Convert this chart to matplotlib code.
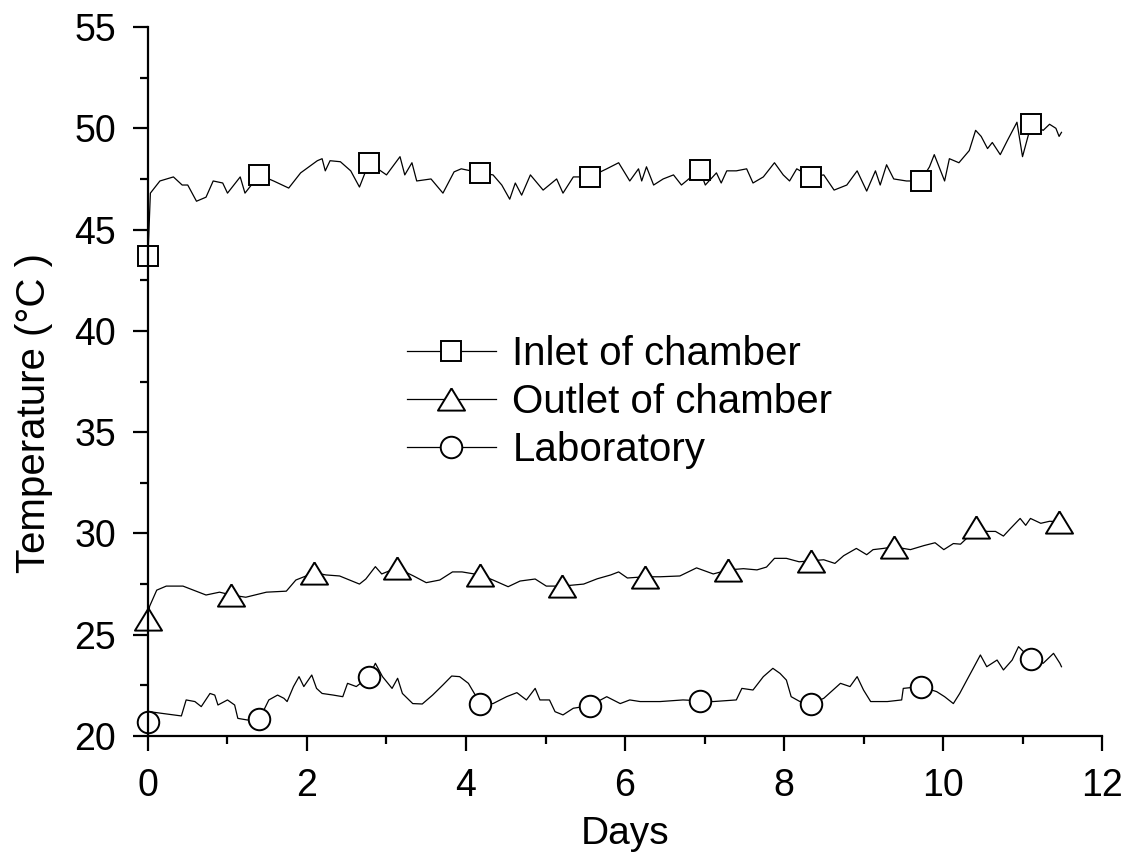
import matplotlib
matplotlib.use("Agg")
import matplotlib.pyplot as plt
import numpy as np

plt.rcParams['font.family'] = ['Liberation Sans', 'DejaVu Sans']

# inlet of chamber (days, degC)
inlet_days = [0.0, 0.03, 0.15, 0.32, 0.43, 0.5, 0.61, 0.73, 0.82, 0.94, 1.0, 1.16, 1.22, 1.28,
              1.4, 1.58, 1.77, 1.92, 2.13, 2.19, 2.23, 2.29, 2.42, 2.55, 2.66, 2.78, 3.0, 3.17,
              3.23, 3.32, 3.38, 3.56, 3.71, 3.85, 3.94, 4.18, 4.34, 4.45, 4.55, 4.62, 4.7, 4.81,
              4.97, 5.14, 5.22, 5.35, 5.56, 5.77, 5.92, 6.06, 6.17, 6.21, 6.27, 6.36, 6.48, 6.61,
              6.71, 6.94, 7.01, 7.15, 7.21, 7.28, 7.4, 7.53, 7.61, 7.74, 7.88, 7.99, 8.07, 8.16,
              8.34, 8.5, 8.63, 8.79, 8.92, 9.04, 9.15, 9.21, 9.29, 9.38, 9.54, 9.72, 9.83, 9.89,
              10.02, 10.08, 10.2, 10.33, 10.41, 10.48, 10.56, 10.62, 10.72, 10.81, 10.93, 11.0,
              11.11, 11.26, 11.34, 11.42, 11.46, 11.49]
inlet_temp = [43.7, 46.8, 47.4, 47.6, 47.2, 47.2, 46.4, 46.6, 47.4, 47.3, 46.8, 47.6, 46.8, 47.1,
              47.7, 47.4, 47.05, 47.8, 48.4, 48.5, 47.9, 48.4, 48.35, 47.9, 47.1, 48.3, 47.7, 48.6,
              47.7, 48.3, 47.4, 47.5, 46.8, 47.85, 48.0, 47.8, 47.7, 47.2, 46.5, 47.3, 46.7, 47.7,
              46.95, 47.5, 46.8, 47.6, 47.6, 48.0, 48.3, 47.4, 48.0, 47.4, 48.1, 47.2, 47.5, 47.7,
              47.2, 47.95, 47.2, 47.8, 47.3, 47.9, 47.9, 48.0, 47.3, 47.6, 48.3, 47.7, 47.4, 48.0,
              47.6, 47.7, 46.95, 47.2, 47.9, 46.9, 47.9, 47.2, 48.2, 47.5, 47.4, 47.4, 48.1, 48.7,
              47.4, 48.5, 48.3, 48.9, 49.9, 49.6, 49.0, 49.3, 48.7, 49.4, 50.3, 48.6,
              50.2, 49.9, 50.2, 50.0, 49.6, 49.8]
inlet_marks = [0.0, 1.4, 2.78, 4.18, 5.56, 6.94, 8.34, 9.72, 11.11]

# outlet of chamber
outlet_days = [0.0, 0.02, 0.11, 0.23, 0.44, 0.73, 0.9, 1.05, 1.23, 1.49, 1.74, 1.86, 2.09, 2.24,
               2.41, 2.66, 2.74, 2.86, 2.94, 3.13, 3.34, 3.5, 3.67, 3.83, 3.95, 4.18, 4.34, 4.53,
               4.68, 4.87, 5.01, 5.21, 5.48, 5.65, 5.82, 5.92, 6.03, 6.25, 6.44, 6.69, 6.9, 7.11,
               7.3, 7.49, 7.66, 7.78, 7.88, 8.03, 8.19, 8.34, 8.5, 8.64, 8.75, 8.91, 9.04, 9.12,
               9.25, 9.38, 9.59, 9.76, 9.9, 10.01, 10.13, 10.22, 10.32, 10.42, 10.55, 10.66, 10.76,
               10.85, 10.97, 11.04, 11.1, 11.23, 11.34, 11.46]
outlet_temp = [25.8, 26.4, 27.2, 27.4, 27.4, 26.96, 27.1, 26.96, 26.85, 27.1, 27.15, 27.7, 28.06, 27.95,
               27.9, 27.5, 27.75, 28.36, 28.0, 28.3, 27.9, 27.57, 27.7, 28.1, 28.1, 27.95, 27.7, 27.37,
               27.65, 27.75, 27.4, 27.4, 27.5, 27.76, 27.95, 28.1, 27.8, 27.86, 27.86, 27.9, 28.3, 28.0,
               28.2, 28.26, 28.2, 28.34, 28.77, 28.77, 28.6, 28.65, 28.7, 28.52, 28.9, 29.26, 28.95, 29.2,
               29.26, 29.34, 29.2, 29.4, 29.54, 29.2, 29.5, 29.47, 29.84, 30.33, 30.1, 30.1, 29.87,
               30.25, 30.74, 30.4, 30.74, 30.5, 30.6, 30.58]
outlet_marks = [0.0, 1.05, 2.09, 3.13, 4.18, 5.21, 6.25, 7.3, 8.34, 9.38, 10.42, 11.46]

# laboratory
lab_days = [0.0, 0.02, 0.17, 0.42, 0.48, 0.59, 0.67, 0.78, 0.84, 0.88, 1.0, 1.09, 1.13, 1.25, 1.4,
            1.52, 1.63, 1.71, 1.75, 1.83, 1.9, 1.96, 2.06, 2.12, 2.19, 2.33, 2.45, 2.51, 2.62, 2.78,
            2.86, 2.95, 3.07, 3.14, 3.2, 3.33, 3.45, 3.58, 3.71, 3.82, 3.92, 4.03, 4.18, 4.34, 4.51,
            4.64, 4.76, 4.87, 4.93, 5.05, 5.12, 5.22, 5.35, 5.56, 5.77, 5.94, 6.06, 6.19, 6.44, 6.73,
            6.94, 7.11, 7.4, 7.47, 7.61, 7.74, 7.86, 7.95, 8.03, 8.09, 8.2, 8.34, 8.5, 8.71, 8.83,
            8.92, 9.0, 9.09, 9.3, 9.48, 9.5, 9.72, 9.92, 10.02, 10.13, 10.21, 10.3, 10.38, 10.47,
            10.55, 10.68, 10.76, 10.87, 10.95, 11.11, 11.26, 11.39, 11.47, 11.49]
lab_temp = [20.71, 21.2, 21.12, 20.99, 21.78, 21.7, 21.45, 22.1, 22.02, 21.53, 21.78, 21.53, 20.87, 20.79, 20.82,
            21.78, 22.02, 21.86, 21.7, 22.44, 22.93, 22.44, 23.01, 22.35, 22.1, 22.02, 21.94, 22.6, 22.44, 22.93,
            23.59, 22.93, 22.35, 22.85, 22.1, 21.6, 21.58, 22.02, 22.52, 22.96, 22.93, 22.6, 21.6, 21.6, 21.94,
            22.14, 21.78, 22.35, 21.78, 21.78, 21.2, 21.04, 21.37, 21.5, 21.94, 21.6, 21.78, 21.7, 21.7, 21.78,
            21.74, 21.7, 21.78, 22.35, 22.27, 22.93, 23.34, 23.09, 22.76, 21.94, 21.7, 21.58, 21.86, 22.6, 22.44,
            22.93, 22.27, 21.7, 21.7, 21.78, 22.35, 22.44, 22.19, 21.94, 21.6, 22.1, 22.76, 23.34, 24.0,
            23.42, 23.75, 23.26, 23.75, 24.41, 23.78, 23.59, 24.08, 23.59, 23.42]
lab_marks = [0.0, 1.4, 2.78, 4.18, 5.56, 6.94, 8.34, 9.72, 11.11]

# squat triangle like the original markers
tri = [(0, 0.82), (-1, -0.82), (1, -0.82), (0, 0.82)]

fig = plt.figure(figsize=(11.34, 8.58), dpi=100)
ax = fig.add_axes([0.1305, 0.1422, 0.8413, 0.8263])

series = [
    (inlet_days, inlet_temp, inlet_marks, 's', 14, 'Inlet of chamber'),
    (outlet_days, outlet_temp, outlet_marks, tri, 19.5, 'Outlet of chamber'),
    (lab_days, lab_temp, lab_marks, 'o', 15.5, 'Laboratory'),
]
for d, t, m, mk, ms, lab in series:
    ax.plot(d, t, color='black', lw=0.9, marker=mk, ms=ms, mfc='white', mec='black', mew=1.4,
            markevery=list(np.isin(d, m)), label=lab, clip_on=False)

ax.set_xlim(0, 12)
ax.set_ylim(20, 55)
ax.set_xticks(np.arange(0, 13, 2))
ax.set_xticks(np.arange(1, 12, 2), minor=True)
ax.set_yticks(np.arange(20, 56, 5))
ax.set_yticks(np.arange(22.5, 55, 5), minor=True)
ax.spines['top'].set_visible(False)
ax.spines['right'].set_visible(False)
ax.spines['left'].set_linewidth(1.6)
ax.spines['bottom'].set_linewidth(1.6)
ax.tick_params(which='major', length=11, width=1.6, labelsize=27, pad=12)
ax.tick_params(which='minor', length=6, width=1.6)
ax.set_xlabel('Days', fontsize=28, labelpad=9)
ax.set_ylabel('Temperature (°C )', fontsize=29)
ax.yaxis.set_label_coords(-0.10, 0.455)

ax.legend(loc='upper left', bbox_to_anchor=(0.271, 0.566), frameon=False, fontsize=29,
          handlelength=2.23, handletextpad=0.4, labelspacing=0.25, borderpad=0, borderaxespad=0)

fig.savefig('out.png', dpi=100)
